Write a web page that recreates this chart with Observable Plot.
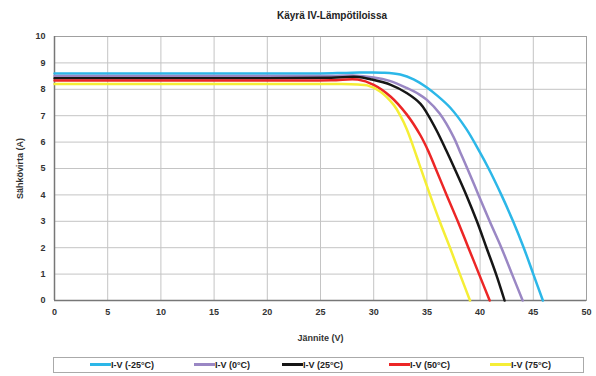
<!DOCTYPE html>
<html>
<head>
<meta charset="utf-8">
<script src="https://cdn.jsdelivr.net/npm/d3@7"></script>
<script src="https://cdn.jsdelivr.net/npm/@observablehq/plot@0.6"></script>
<style>
  body { margin: 0; background: #fff; font-family: "Liberation Sans", Arial, sans-serif; }
  #wrap { position: relative; width: 596px; height: 376px; }
  #title { position: absolute; top: 10px; left: 0; width: 664px; text-align: center; font-size: 10px; font-weight: bold; color: #222; }
  #chart { position: absolute; top: 28px; left: 0; }
  #legend { position: absolute; left: 53px; top: 357px; width: 531px; height: 16px; border: 1px solid #aaa; box-sizing: border-box; background: #fff; }
  .item { position: absolute; top: 0; height: 16px; line-height: 15px; font-size: 9px; font-weight: bold; color: #222; white-space: nowrap; }
  .sw { display: inline-block; width: 21px; height: 2.5px; vertical-align: middle; position: relative; top: -1px; }
</style>
</head>
<body>
<div id="wrap">
  <div id="title">Käyrä IV-Lämpötiloissa</div>
  <div id="chart"></div>
  <div id="legend"></div>
</div>
<script>
// Series labels and colours
const seriesNames = ["I-V (-25°C)", "I-V (0°C)", "I-V (25°C)", "I-V (50°C)", "I-V (75°C)"];
const seriesColors = ["#2cb7e8", "#9a87c4", "#161616", "#ec2626", "#f5ee36"];

// Axis ticks
const xTicks = [0, 5, 10, 15, 20, 25, 30, 35, 40, 45, 50];
const yTicks = [0, 1, 2, 3, 4, 5, 6, 7, 8, 9, 10];

// Voltage (V) / current (A) per temperature
const vM25 = [0, 10, 20, 25, 28, 31, 32.5, 33.75, 35, 36, 37.2, 38.7, 40, 40.8, 42, 43.1, 44.1, 45, 45.9];
const iM25 = [8.6, 8.6, 8.6, 8.6, 8.63, 8.63, 8.56, 8.38, 8.07, 7.75, 7.3, 6.5, 5.6, 5.0, 4.0, 3.0, 2.0, 1.0, 0];

const v0 = [0, 10, 20, 26, 28, 30, 31.5, 33.1, 34.3, 35, 36.2, 37.5, 38.15, 38.8, 39.85, 40.9, 42, 43, 44];
const i0 = [8.5, 8.5, 8.5, 8.5, 8.52, 8.45, 8.32, 8.05, 7.8, 7.6, 7.08, 6.2, 5.6, 5.0, 4.0, 3.0, 2.0, 1.0, 0];

const v25 = [0, 10, 20, 26, 28.5, 29.7, 31.6, 33.1, 34.4, 35, 35.9, 36.8, 37.6, 38.7, 39.7, 40.6, 41.5, 42.3];
const i25 = [8.42, 8.42, 8.42, 8.44, 8.47, 8.38, 8.17, 7.86, 7.45, 7.1, 6.45, 5.7, 5.0, 4.0, 3.0, 2.0, 1.0, 0];

const v50 = [0, 10, 20, 26, 28.5, 30, 31.6, 33.1, 34.4, 35.2, 35.8, 36.85, 37.9, 38.9, 39.9, 40.9];
const i50 = [8.33, 8.33, 8.33, 8.34, 8.37, 8.17, 7.72, 7.05, 6.25, 5.6, 5.02, 4.0, 3.0, 2.0, 1.0, 0];

const v75 = [0, 10, 20, 27, 28.5, 29.4, 30.6, 31.9, 32.5, 33.1, 33.7, 34.3, 35.25, 36.2, 37.2, 38.1, 39.05];
const i75 = [8.2, 8.2, 8.2, 8.2, 8.18, 8.15, 7.92, 7.4, 7.0, 6.5, 5.85, 5.15, 4.05, 3.0, 1.97, 1.0, 0];

const seriesV = [vM25, v0, v25, v50, v75];
const seriesI = [iM25, i0, i25, i50, i75];

const rows = [];
seriesNames.forEach((name, k) => {
  seriesV[k].forEach((v, j) => rows.push({series: name, V: v, I: seriesI[k][j]}));
});

const chart = Plot.plot({
  width: 596,
  height: 322,
  marginLeft: 54,
  marginRight: 10,
  marginTop: 8,
  marginBottom: 50,
  style: {fontFamily: "'Liberation Sans', Arial, sans-serif", fontSize: "9px", fontWeight: "bold", color: "#333", background: "#fff"},
  x: {domain: [0, 50]},
  y: {domain: [0, 10]},
  color: {domain: seriesNames, range: seriesColors},
  marks: [
    Plot.gridX(xTicks, {stroke: "#c4c4c4", strokeOpacity: 1}),
    Plot.gridY(yTicks, {stroke: "#c4c4c4", strokeOpacity: 1}),
    Plot.frame({stroke: "#a0a0a0"}),
    Plot.axisX(xTicks, {tickSize: 0, tickPadding: 8, label: "Jännite (V)", labelAnchor: "center", labelOffset: 40, labelArrow: "none"}),
    Plot.axisY(yTicks, {tickSize: 0, tickPadding: 9, label: "Sähkövirta (A)", labelAnchor: "center", labelOffset: 38, labelArrow: "none"}),
    Plot.ruleX([0], {stroke: "#777", strokeWidth: 1.5}),
    Plot.ruleY([0], {stroke: "#777", strokeWidth: 1.5}),
    Plot.line(rows, {x: "V", y: "I", z: "series", stroke: "series", strokeWidth: 2.5, curve: "catmull-rom"})
  ]
});
document.getElementById("chart").appendChild(chart);

// Legend
const legendX = [36, 140, 228, 335, 436];
const legend = document.getElementById("legend");
seriesNames.forEach((name, k) => {
  const it = document.createElement("div");
  it.className = "item";
  it.style.left = legendX[k] + "px";
  const sw = document.createElement("span");
  sw.className = "sw";
  sw.style.background = seriesColors[k];
  it.appendChild(sw);
  it.appendChild(document.createTextNode(name));
  legend.appendChild(it);
});
</script>
</body>
</html>
